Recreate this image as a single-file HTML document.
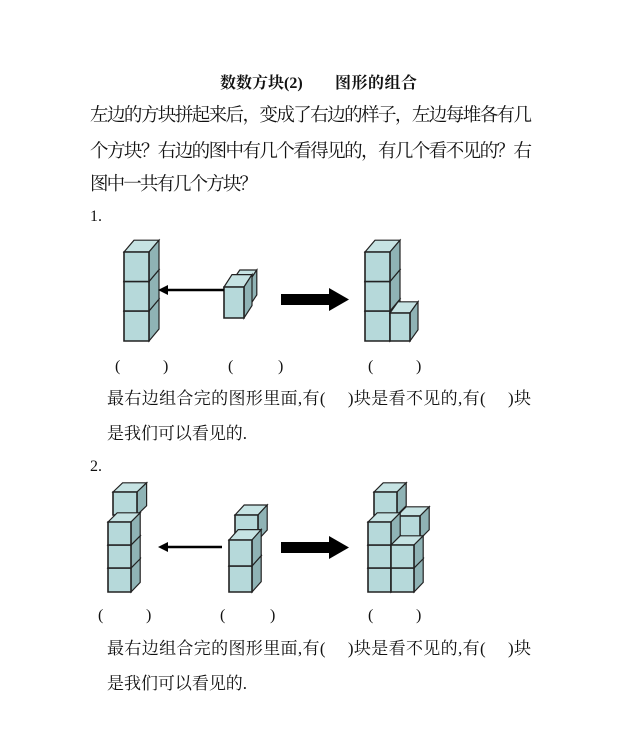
<!DOCTYPE html>
<html><head><meta charset="utf-8"><style>
html,body{margin:0;padding:0;background:#fff}
svg{display:block}
text{font-family:"Liberation Serif","Noto Serif CJK SC","Noto Sans CJK SC",serif;fill:#111}
</style></head><body>
<svg width="626" height="737" viewBox="0 0 626 737" xmlns="http://www.w3.org/2000/svg">
<defs>
<g id="c">
<polygon points="0,0 0.4,-0.4 1.4,-0.4 1,0" fill="#c6e3e3" stroke="#222" stroke-width="1.2" vector-effect="non-scaling-stroke"/>
<polygon points="1,0 1.4,-0.4 1.4,0.6 1,1" fill="#8fb3b5" stroke="#222" stroke-width="1.2" vector-effect="non-scaling-stroke"/>
<rect x="0" y="0" width="1" height="1" fill="#b6d9da" stroke="#222" stroke-width="1.6" vector-effect="non-scaling-stroke"/>
</g>
</defs>
<text x="220" y="88" font-size="16" font-weight="bold">数数方块(2)</text>
<text x="335" y="88" font-size="16" font-weight="bold" textLength="82">图形的组合</text>
<text x="90" y="121" font-size="18.5" textLength="442">左边的方块拼起来后，变成了右边的样子，左边每堆各有几</text>
<text x="90" y="157" font-size="18.5" textLength="442">个方块？右边的图中有几个看得见的，有几个看不见的？右</text>
<text x="90" y="190" font-size="18.5" textLength="168">图中一共有几个方块？</text>
<text x="90" y="221" font-size="16">1.</text>

<use href="#c" transform="translate(124,311) scale(25,30)"/>
<use href="#c" transform="translate(124,281.5) scale(25,29.5)"/>
<use href="#c" transform="translate(124,252) scale(25,29.5)"/>
<use href="#c" transform="translate(233,280) scale(17,25)"/>
<use href="#c" transform="translate(224,287) scale(20,31)"/>
<line x1="224" y1="290" x2="166" y2="290" stroke="#000" stroke-width="2.5"/>
<polygon points="158,290 168,285 168,295" fill="#000"/>
<rect x="281" y="294" width="50" height="11" fill="#000"/>
<polygon points="329,288 349,299.5 329,311" fill="#000"/>
<use href="#c" transform="translate(365,311) scale(25,30)"/>
<use href="#c" transform="translate(365,281.5) scale(25,29.5)"/>
<use href="#c" transform="translate(365,252) scale(25,29.5)"/>
<use href="#c" transform="translate(390,313) scale(20,28)"/>

<text font-size="16" y="371"><tspan x="115">(</tspan><tspan x="163">)</tspan><tspan x="228">(</tspan><tspan x="278">)</tspan><tspan x="368">(</tspan><tspan x="416">)</tspan></text>
<text x="107" y="404" font-size="17" textLength="424">最右边组合完的图形里面,有(　 )块是看不见的,有(　 )块</text>
<text x="107" y="439" font-size="17" textLength="140">是我们可以看见的.</text>
<text x="90" y="471" font-size="16">2.</text>

<use href="#c" transform="translate(113,492) scale(24,23)"/>
<use href="#c" transform="translate(108,568) scale(23,24)"/>
<use href="#c" transform="translate(108,545) scale(23,23)"/>
<use href="#c" transform="translate(108,522) scale(23,23)"/>
<use href="#c" transform="translate(235,515) scale(23,25)"/>
<use href="#c" transform="translate(229,566) scale(23,26)"/>
<use href="#c" transform="translate(229,540) scale(23,26)"/>
<line x1="222" y1="547" x2="166" y2="547" stroke="#000" stroke-width="2.5"/>
<polygon points="158,547 168,542 168,552" fill="#000"/>
<rect x="281" y="542" width="50" height="11" fill="#000"/>
<polygon points="329,536 349,547.5 329,559" fill="#000"/>
<use href="#c" transform="translate(374,492) scale(23,23)"/>
<use href="#c" transform="translate(397,516) scale(23,23)"/>
<use href="#c" transform="translate(368,568) scale(23,24)"/>
<use href="#c" transform="translate(368,545) scale(23,23)"/>
<use href="#c" transform="translate(368,522) scale(23,23)"/>
<use href="#c" transform="translate(391,568) scale(23,24)"/>
<use href="#c" transform="translate(391,545) scale(23,23)"/>

<text font-size="16" y="620"><tspan x="98">(</tspan><tspan x="146">)</tspan><tspan x="220">(</tspan><tspan x="270">)</tspan><tspan x="368">(</tspan><tspan x="416">)</tspan></text>
<text x="107" y="654" font-size="17" textLength="424">最右边组合完的图形里面,有(　 )块是看不见的,有(　 )块</text>
<text x="107" y="689" font-size="17" textLength="140">是我们可以看见的.</text>
</svg>
</body></html>
